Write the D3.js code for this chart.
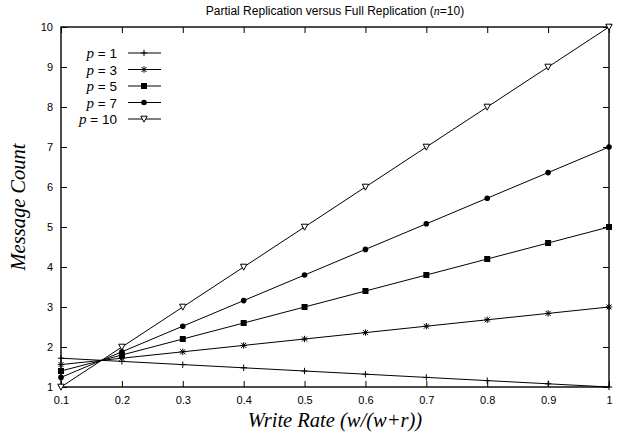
<!DOCTYPE html>
<html>
<head>
<meta charset="utf-8">
<script src="https://cdn.jsdelivr.net/npm/d3@7"></script>
<style>
  body { margin: 0; background: #fff; }
  text { fill: #000; }
</style>
</head>
<body>
<div id="chart"></div>
<script>
// write rate values on the x axis
const writeRates = [0.1, 0.2, 0.3, 0.4, 0.5, 0.6, 0.7, 0.8, 0.9, 1.0];

// message counts, one array per p
const p1 = [1.72, 1.64, 1.56, 1.48, 1.40, 1.32, 1.24, 1.16, 1.08, 1.00];
const p3 = [1.56, 1.72, 1.88, 2.04, 2.20, 2.36, 2.52, 2.68, 2.84, 3.00];
const p5 = [1.40, 1.80, 2.20, 2.60, 3.00, 3.40, 3.80, 4.20, 4.60, 5.00];
const p7 = [1.24, 1.88, 2.52, 3.16, 3.80, 4.44, 5.08, 5.72, 6.36, 7.00];
const p10 = [1, 2, 3, 4, 5, 6, 7, 8, 9, 10];

const seriesNames = ['1', '3', '5', '7', '10'];
const seriesValues = [p1, p3, p5, p7, p10];

const xTicks = [0.1, 0.2, 0.3, 0.4, 0.5, 0.6, 0.7, 0.8, 0.9, 1];
const yTicks = [1, 2, 3, 4, 5, 6, 7, 8, 9, 10];

const W = 623, H = 433;
const margin = { top: 27, right: 14, bottom: 46, left: 61 };
const width = W - margin.left - margin.right;
const height = H - margin.top - margin.bottom;

const svg = d3.select('#chart').append('svg')
    .attr('width', W)
    .attr('height', H);

const chart = svg.append('g')
    .attr('transform', `translate(${margin.left},${margin.top})`);

const x = d3.scaleLinear().domain([0.1, 1]).range([0, width]);
const y = d3.scaleLinear().domain([1, 10]).range([height, 0]);

const sans = '"Liberation Sans", Arial, Helvetica, sans-serif';
const serif = '"Liberation Serif", "Times New Roman", serif';

// axes with inward ticks (gnuplot style)
const xAxis = d3.axisBottom(x).tickValues(xTicks).tickSize(-6).tickPadding(9)
    .tickFormat(d => d === 1 ? '1' : d3.format('.1f')(d));
const yAxis = d3.axisLeft(y).tickValues(yTicks).tickSize(-6).tickPadding(8);

const gx = chart.append('g')
    .attr('transform', `translate(0,${height})`)
    .call(xAxis);
const gy = chart.append('g').call(yAxis);

// mirrored ticks on top and right, no labels
const gTop = chart.append('g')
    .call(d3.axisTop(x).tickValues(xTicks).tickSize(-6).tickFormat(''));
const gRight = chart.append('g')
    .attr('transform', `translate(${width},0)`)
    .call(d3.axisRight(y).tickValues(yTicks).tickSize(-6).tickFormat(''));

[gx, gy, gTop, gRight].forEach(g => {
    g.select('.domain').remove();
    g.selectAll('line').attr('stroke', '#000').attr('stroke-width', 1);
    g.selectAll('text')
        .style('font-family', sans)
        .style('font-size', '11px')
        .attr('fill', '#000');
});

chart.append('rect')
    .attr('x', 0).attr('y', 0)
    .attr('width', width).attr('height', height)
    .attr('fill', 'none')
    .attr('stroke', '#000')
    .attr('stroke-width', 1.4);

// marker shapes
const symbols = ['plus', 'star', 'square', 'circle', 'tri'];

function drawMarker(g, kind) {
    if (kind === 'plus') {
        g.append('path').attr('d', 'M-3.2,0H3.2M0,-3.2V3.2')
            .attr('stroke', '#000').attr('stroke-width', 1).attr('fill', 'none');
    } else if (kind === 'star') {
        g.append('path').attr('d', 'M-3.2,0H3.2M0,-3.2V3.2M-2.5,-2.5L2.5,2.5M-2.5,2.5L2.5,-2.5')
            .attr('stroke', '#000').attr('stroke-width', 1).attr('fill', 'none');
    } else if (kind === 'square') {
        g.append('rect').attr('x', -3).attr('y', -3).attr('width', 6).attr('height', 6)
            .attr('fill', '#000');
    } else if (kind === 'circle') {
        g.append('circle').attr('r', 2.8).attr('fill', '#000');
    } else {
        g.append('path').attr('d', 'M-3.2,-2.8L3.2,-2.8L0,3.2Z')
            .attr('fill', '#fff').attr('stroke', '#000').attr('stroke-width', 1);
    }
}

const line = d3.line()
    .x((d, i) => x(writeRates[i]))
    .y(d => y(d));

seriesValues.forEach((vals, s) => {
    chart.append('path')
        .datum(vals)
        .attr('d', line)
        .attr('fill', 'none')
        .attr('stroke', '#000')
        .attr('stroke-width', 1);

    chart.selectAll(null)
        .data(vals)
        .enter().append('g')
        .attr('transform', (d, i) => `translate(${x(writeRates[i])},${y(d)})`)
        .each(function () { drawMarker(d3.select(this), symbols[s]); });
});

// legend
const legend = svg.append('g');
seriesNames.forEach((name, i) => {
    const ly = 53 + i * 16.5;
    const t = legend.append('text')
        .attr('x', 117).attr('y', ly + 5)
        .attr('text-anchor', 'end')
        .style('font-family', sans)
        .style('font-size', '13.5px');
    t.append('tspan').text('p')
        .style('font-family', serif)
        .style('font-style', 'italic')
        .style('font-size', '15px');
    t.append('tspan').text(' = ' + name);

    legend.append('line')
        .attr('x1', 128).attr('x2', 161)
        .attr('y1', ly).attr('y2', ly)
        .attr('stroke', '#000').attr('stroke-width', 1);
    const m = legend.append('g').attr('transform', `translate(144,${ly})`);
    drawMarker(m, symbols[i]);
});

// title
const title = svg.append('text')
    .attr('x', margin.left + width / 2)
    .attr('y', 15)
    .attr('text-anchor', 'middle')
    .style('font-family', sans)
    .style('font-size', '12px');
title.append('tspan').text('Partial Replication versus Full Replication (');
title.append('tspan').text('n').style('font-family', serif).style('font-style', 'italic');
title.append('tspan').text('=10)');

// axis labels
svg.append('text')
    .attr('x', margin.left + width / 2)
    .attr('y', 427)
    .attr('text-anchor', 'middle')
    .style('font-family', serif)
    .style('font-style', 'italic')
    .style('font-size', '20.5px')
    .text('Write Rate (w/(w+r))');

svg.append('text')
    .attr('transform', `translate(25,${margin.top + height / 2}) rotate(-90)`)
    .attr('text-anchor', 'middle')
    .style('font-family', serif)
    .style('font-style', 'italic')
    .style('font-size', '20.5px')
    .text('Message Count');
</script>
</body>
</html>
